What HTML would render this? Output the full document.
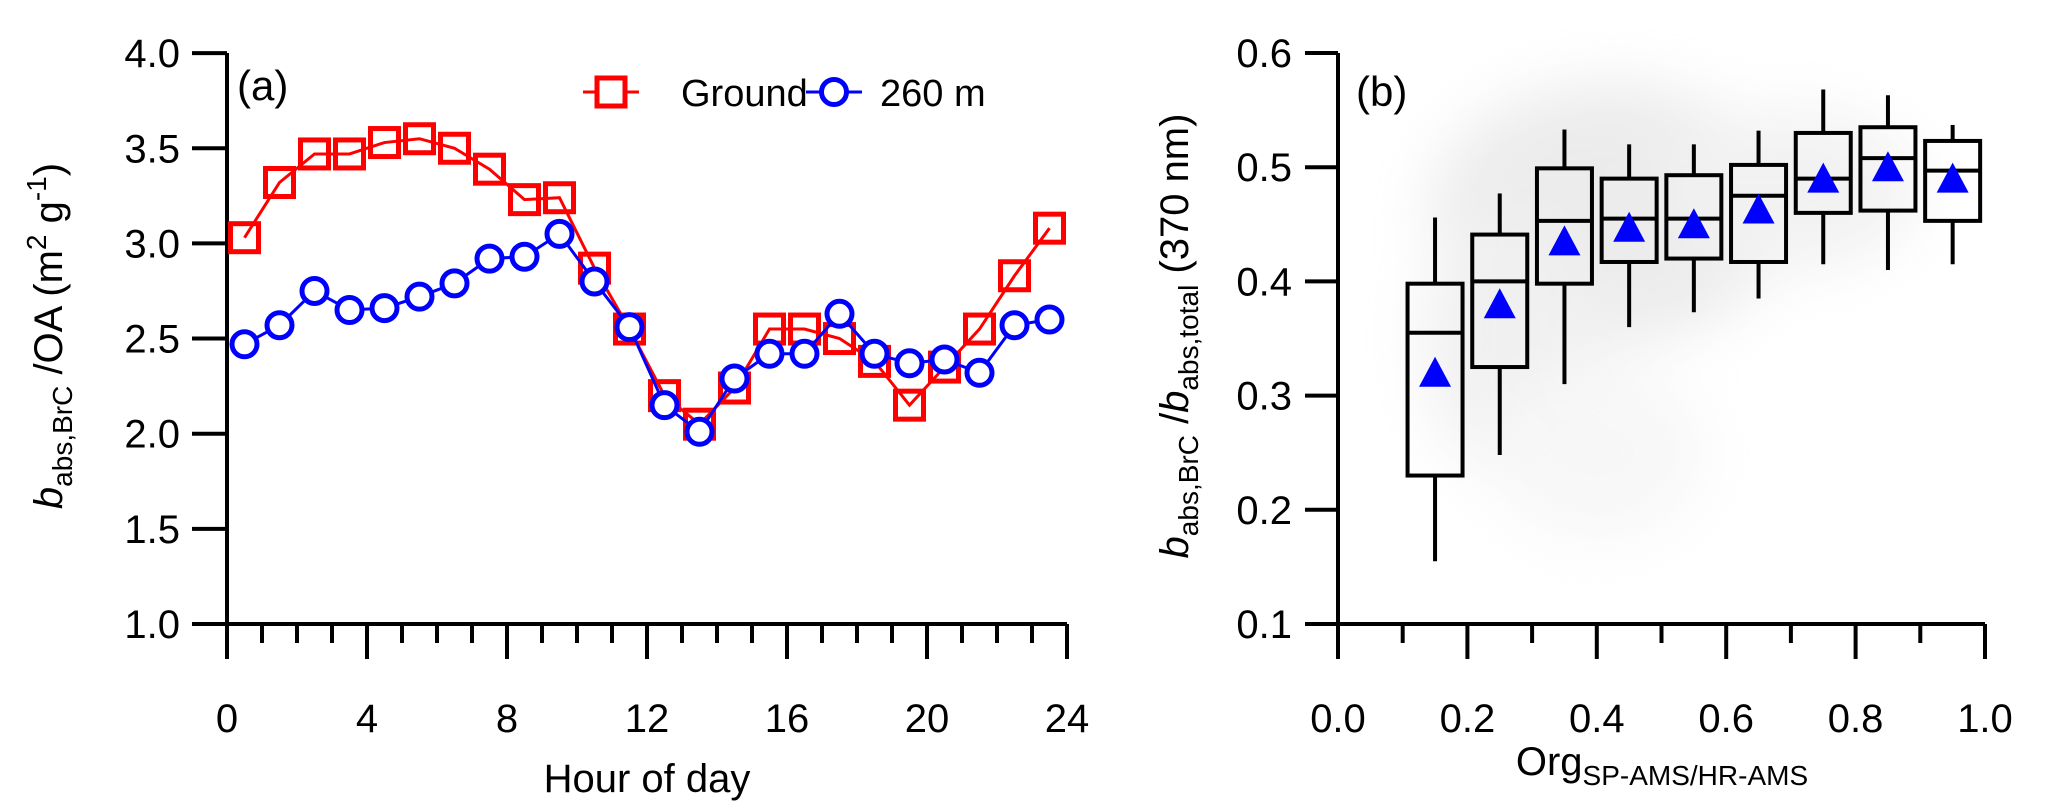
<!DOCTYPE html>
<html><head><meta charset="utf-8"><style>
html,body{margin:0;padding:0;background:#fff;}
svg{display:block;font-family:"Liberation Sans",sans-serif;}
</style></head><body>
<svg id="fig" width="2065" height="811" viewBox="0 0 2065 811">
<defs><filter id="blur" x="-50%" y="-50%" width="200%" height="200%"><feGaussianBlur stdDeviation="30"/></filter></defs>
<g id="pa"></g>
<g id="pb"></g>
</svg>
<script>
// Panel (a) data
const hours = [0.5,1.5,2.5,3.5,4.5,5.5,6.5,7.5,8.5,9.5,10.5,11.5,12.5,13.5,14.5,15.5,16.5,17.5,18.5,19.5,20.5,21.5,22.5,23.5];
const groundVals = [3.03,3.32,3.47,3.47,3.53,3.55,3.50,3.39,3.23,3.24,2.87,2.55,2.20,2.05,2.24,2.55,2.55,2.50,2.38,2.15,2.35,2.55,2.83,3.08];
const m260Vals = [2.47,2.57,2.75,2.65,2.66,2.72,2.79,2.92,2.93,3.05,2.80,2.56,2.15,2.01,2.29,2.42,2.42,2.63,2.42,2.37,2.39,2.32,2.57,2.60];
const aYTicks = ["1.0","1.5","2.0","2.5","3.0","3.5","4.0"];
const aXTicks = ["0","4","8","12","16","20","24"];
// Panel (b) data
const binCenters = [0.15,0.25,0.35,0.45,0.55,0.65,0.75,0.85,0.95];
const whiskLow = [0.155,0.248,0.31,0.36,0.373,0.385,0.415,0.41,0.415];
const q1Vals = [0.23,0.325,0.398,0.417,0.42,0.417,0.46,0.462,0.453];
const medVals = [0.355,0.40,0.453,0.455,0.455,0.475,0.49,0.508,0.497];
const q3Vals = [0.398,0.441,0.499,0.49,0.493,0.502,0.53,0.535,0.523];
const whiskHigh = [0.456,0.477,0.533,0.52,0.52,0.532,0.568,0.563,0.537];
const meanVals = [0.32,0.38,0.435,0.447,0.45,0.463,0.49,0.50,0.49];
const bYTicks = ["0.1","0.2","0.3","0.4","0.5","0.6"];
const bXTicks = ["0.0","0.2","0.4","0.6","0.8","1.0"];

const NS="http://www.w3.org/2000/svg";
function mk(parent,tag,attrs,text){const e=document.createElementNS(NS,tag);for(const k in attrs)e.setAttribute(k,attrs[k]);if(text!==undefined)e.textContent=text;parent.appendChild(e);return e;}

// ---------- Panel a ----------
const pa=document.getElementById('pa');
const ax=h=>227+h*35, ay=v=>624-(v-1)*190.3;
mk(pa,'line',{x1:227,y1:53,x2:227,y2:624,stroke:'#000','stroke-width':4});
mk(pa,'line',{x1:192,y1:624,x2:ax(24),y2:624,stroke:'#000','stroke-width':4});
for(let i=0;i<aYTicks.length;i++){const v=parseFloat(aYTicks[i]);const y=ay(v);
 mk(pa,'line',{x1:192,y1:y,x2:227,y2:y,stroke:'#000','stroke-width':4});
 const t=mk(pa,'text',{x:180,y:y+14,'text-anchor':'end','font-size':40},aYTicks[i]);
 
 }
for(let h=0;h<=24;h++){const x=ax(h);const major=h%4===0;
 mk(pa,'line',{x1:x,y1:624,x2:x,y2:major?659:643,stroke:'#000','stroke-width':4});}
for(let i=0;i<aXTicks.length;i++){const x=ax(parseFloat(aXTicks[i]));
 const t=mk(pa,'text',{x:x,y:732,'text-anchor':'middle','font-size':40},aXTicks[i]);
 
 }
const xt=mk(pa,'text',{x:647,y:792,'text-anchor':'middle','font-size':40},'Hour of day');


const yt=mk(pa,'text',{transform:'translate(62,336) rotate(-90)','text-anchor':'middle','font-size':40});


mk(yt,'tspan',{'font-style':'italic'},'b');
mk(yt,'tspan',{'font-size':28,dy:10},'abs,BrC');
mk(yt,'tspan',{dy:-10},' /OA (m');
mk(yt,'tspan',{'font-size':28,dy:-16},'2');
mk(yt,'tspan',{dy:16},' g');
mk(yt,'tspan',{'font-size':28,dy:-16},'-1');
mk(yt,'tspan',{dy:16},')');
const la=mk(pa,'text',{x:237,y:100,'font-size':42},'(a)');


const gp=hours.map((h,i)=>ax(h)+','+ay(groundVals[i])).join(' ');
mk(pa,'polyline',{points:gp,fill:'none',stroke:'#f00','stroke-width':3});
const bp=hours.map((h,i)=>ax(h)+','+ay(m260Vals[i])).join(' ');
hours.forEach((h,i)=>{const s=mk(pa,'rect',{x:ax(h)-14,y:ay(groundVals[i])-14,width:28,height:28,fill:'none',stroke:'#f00','stroke-width':5});
 
 });
mk(pa,'polyline',{points:bp,fill:'none',stroke:'#00f','stroke-width':3});
hours.forEach((h,i)=>{const c=mk(pa,'circle',{cx:ax(h),cy:ay(m260Vals[i]),r:12.5,fill:'#fff',stroke:'#00f','stroke-width':5});
 
 });
const lg=mk(pa,'g',{});


mk(lg,'line',{x1:583,y1:92,x2:639,y2:92,stroke:'#f00','stroke-width':3});
mk(lg,'rect',{x:597,y:78,width:28,height:28,fill:'#fff',stroke:'#f00','stroke-width':5});
mk(lg,'text',{x:681,y:106,'font-size':38},'Ground');
mk(lg,'line',{x1:806,y1:92,x2:862,y2:92,stroke:'#00f','stroke-width':3});
mk(lg,'circle',{cx:834,cy:92,r:12.5,fill:'#fff',stroke:'#00f','stroke-width':5});
mk(lg,'text',{x:880,y:106,'font-size':38},'260 m');

// ---------- Panel b ----------
const pb=document.getElementById('pb');
const bx=v=>1338+v*647, by=v=>624-(v-0.1)*1142;
const cl=mk(pb,'g',{filter:'url(#blur)',opacity:0.4});


mk(cl,'ellipse',{cx:bx(0.42),cy:by(0.46),rx:180,ry:130,fill:'#cfcfcf'});
mk(cl,'ellipse',{cx:bx(0.27),cy:by(0.35),rx:90,ry:140,fill:'#dadada'});
mk(cl,'ellipse',{cx:bx(0.7),cy:by(0.48),rx:130,ry:80,fill:'#dedede'});
mk(cl,'ellipse',{cx:bx(0.4),cy:by(0.25),rx:110,ry:90,fill:'#ececec'});
mk(pb,'line',{x1:1338,y1:53,x2:1338,y2:624,stroke:'#000','stroke-width':4});
mk(pb,'line',{x1:1305,y1:624,x2:bx(1),y2:624,stroke:'#000','stroke-width':4});
for(let i=0;i<bYTicks.length;i++){const y=by(parseFloat(bYTicks[i]));
 mk(pb,'line',{x1:1305,y1:y,x2:1338,y2:y,stroke:'#000','stroke-width':4});
 const t=mk(pb,'text',{x:1292,y:y+14,'text-anchor':'end','font-size':40},bYTicks[i]);
 
 }
for(let k=0;k<=10;k++){const x=bx(k/10);
 mk(pb,'line',{x1:x,y1:624,x2:x,y2:k%2===0?659:643,stroke:'#000','stroke-width':4});}
for(let i=0;i<bXTicks.length;i++){const x=bx(parseFloat(bXTicks[i]));
 const t=mk(pb,'text',{x:x,y:732,'text-anchor':'middle','font-size':40},bXTicks[i]);
 
 }
const bxt=mk(pb,'text',{x:1662,y:775,'text-anchor':'middle','font-size':40});


mk(bxt,'tspan',{},'Org');
mk(bxt,'tspan',{'font-size':28,dy:10},'SP-AMS/HR-AMS');
const byt=mk(pb,'text',{transform:'translate(1188,336) rotate(-90)','text-anchor':'middle','font-size':40});


mk(byt,'tspan',{'font-style':'italic'},'b');
mk(byt,'tspan',{'font-size':28,dy:10},'abs,BrC');
mk(byt,'tspan',{dy:-10},' /');
mk(byt,'tspan',{'font-style':'italic'},'b');
mk(byt,'tspan',{'font-size':28,dy:10},'abs,total');
mk(byt,'tspan',{dy:-10},' (370 nm)');
const lb=mk(pb,'text',{x:1356,y:106,'font-size':42},'(b)');


const bw=0.085*647;
binCenters.forEach((c,i)=>{const x=bx(c);
 const g=mk(pb,'g',{});
 
 
 mk(g,'line',{x1:x,y1:by(whiskHigh[i]),x2:x,y2:by(q3Vals[i]),stroke:'#000','stroke-width':4});
 mk(g,'line',{x1:x,y1:by(q1Vals[i]),x2:x,y2:by(whiskLow[i]),stroke:'#000','stroke-width':4});
 mk(g,'rect',{x:x-bw/2,y:by(q3Vals[i]),width:bw,height:by(q1Vals[i])-by(q3Vals[i]),fill:'none',stroke:'#000','stroke-width':4});
 mk(g,'line',{x1:x-bw/2,y1:by(medVals[i]),x2:x+bw/2,y2:by(medVals[i]),stroke:'#000','stroke-width':4});
 const m=by(meanVals[i]);
 const tr=mk(g,'polygon',{points:(x-16)+','+(m+14)+' '+(x+16)+','+(m+14)+' '+x+','+(m-16),fill:'#00f'});
 
 
});
</script>
</body></html>
